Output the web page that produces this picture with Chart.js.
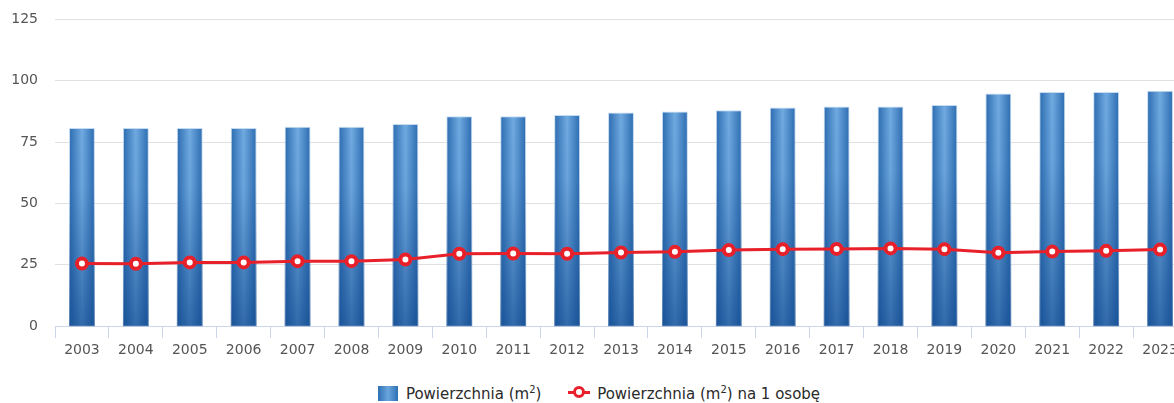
<!DOCTYPE html>
<html>
<head>
<meta charset="utf-8">
<script src="https://cdn.jsdelivr.net/npm/chart.js@4.4.1/dist/chart.umd.min.js"></script>
<style>
    html, body { margin: 0; padding: 0; background: #fff; overflow: hidden; }
    #wrap { position: relative; width: 1196px; height: 403px; }
    #box { position: absolute; left: 0; top: -6px; width: 1196px; height: 369px; }
    #legend {
        position: absolute; left: 0; top: 384px; width: 1198px; text-align: center;
        font-family: "DejaVu Sans", sans-serif; font-size: 15px; color: #2a2a2a; white-space: nowrap;
    }
    .item { display: inline-block; margin: 0 11px; vertical-align: middle; }
    .item sup { font-size: 10px; }
    .sw-bar { display: inline-block; width: 20px; height: 15px; vertical-align: -2px; margin-right: 8px;
        background: linear-gradient(to right, #2f70b4, #6aa5dc, #2f70b4); }
    .sw-line { display: inline-block; width: 22px; height: 14px; vertical-align: -1px; margin-right: 7px; position: relative; }
    .sw-line:before { content: ""; position: absolute; left: 0; right: 0; top: 5px; height: 3px; background: #e8202a; }
    .sw-line:after { content: ""; position: absolute; left: 5px; top: 0px; width: 6px; height: 6px;
        border: 3px solid #e8202a; border-radius: 50%; background: #fff; }
</style>
</head>
<body>
<div id="wrap">
    <div id="box"><canvas id="chart"></canvas></div>
    <div id="legend">
        <span class="item"><span class="sw-bar"></span>Powierzchnia (m<sup>2</sup>)</span>
        <span class="item"><span class="sw-line"></span>Powierzchnia (m<sup>2</sup>) na 1 osobę</span>
    </div>
</div>
<script>
    const years = ["2003", "2004", "2005", "2006", "2007", "2008", "2009", "2010", "2011", "2012", "2013",
        "2014", "2015", "2016", "2017", "2018", "2019", "2020", "2021", "2022", "2023"];
    const area = [80.8, 80.8, 80.8, 80.8, 81.3, 81.3, 82.4, 85.5, 85.5, 86.0, 87.1,
        87.5, 88.0, 89.1, 89.5, 89.5, 90.1, 94.8, 95.4, 95.4, 95.9];
    const areaPerPerson = [25.5, 25.4, 26.0, 26.0, 26.5, 26.5, 27.2, 29.5, 29.6, 29.5, 30.0,
        30.3, 31.0, 31.4, 31.5, 31.7, 31.4, 29.9, 30.4, 30.7, 31.2];
    const yTicks = [0, 25, 50, 75, 100, 125];

    const barShare = 0.48;

    // horizontal gradient for each bar: dark edges, light middle
    function barFill(ctx) {
        const chart = ctx.chart;
        const xs = chart.scales.x;
        if (!chart.chartArea || !xs || ctx.dataIndex === undefined) return "#3a7fc2";
        const x = xs.getPixelForValue(ctx.dataIndex);
        const half = barShare * chart.chartArea.width / years.length / 2;
        const g = chart.ctx.createLinearGradient(x - half, 0, x + half, 0);
        g.addColorStop(0, "#2b6bb0");
        g.addColorStop(0.5, "#70aae0");
        g.addColorStop(1, "#2b6bb0");
        return g;
    }

    // vertical shading on top of the bars, darker toward the base
    const shade = {
        id: "shade",
        afterDatasetDraw(chart, args) {
            if (chart.data.datasets[args.index].type !== "bar") return;
            const c = chart.ctx;
            const bottom = chart.scales.y.getPixelForValue(0);
            args.meta.data.forEach(function (bar) {
                const half = bar.width / 2;
                const g = c.createLinearGradient(0, bar.y, 0, bottom);
                g.addColorStop(0, "rgba(15,70,140,0)");
                g.addColorStop(0.3, "rgba(15,70,140,0.05)");
                g.addColorStop(1, "rgba(10,65,135,0.6)");
                c.save();
                c.fillStyle = g;
                c.fillRect(bar.x - half, bar.y, bar.width, bottom - bar.y);
                c.restore();
            });
        }
    };

    new Chart(document.getElementById("chart"), {
        data: {
            labels: years,
            datasets: [
                {
                    type: "line",
                    label: "Powierzchnia (m²) na 1 osobę",
                    data: areaPerPerson,
                    borderColor: "#e8202a",
                    borderWidth: 3,
                    pointRadius: 5,
                    pointBorderWidth: 4,
                    pointBackgroundColor: "#ffffff",
                    pointBorderColor: "#e8202a",
                    tension: 0,
                    order: 0
                },
                {
                    type: "bar",
                    label: "Powierzchnia (m²)",
                    data: area,
                    backgroundColor: barFill,
                    borderColor: "rgba(190,215,240,0.9)",
                    borderWidth: 1,
                    barPercentage: barShare,
                    categoryPercentage: 1,
                    order: 1
                }
            ]
        },
        options: {
            responsive: true,
            maintainAspectRatio: false,
            animation: false,
            layout: { padding: { top: 0, right: 0, left: 0, bottom: 0 } },
            plugins: {
                legend: { display: false },
                tooltip: { enabled: false }
            },
            scales: {
                x: {
                    offset: true,
                    grid: {
                        offset: true,
                        drawOnChartArea: false,
                        drawTicks: true,
                        tickLength: 12,
                        color: "#ccd6eb"
                    },
                    border: { color: "#ccd6eb", width: 1 },
                    ticks: {
                        color: "#555",
                        font: { family: "DejaVu Sans", size: 14 },
                        padding: 4,
                        maxRotation: 0,
                        autoSkip: false
                    }
                },
                y: {
                    min: 0,
                    max: 125,
                    afterBuildTicks: function (scale) {
                        scale.ticks = yTicks.map(function (v) { return { value: v }; });
                    },
                    afterFit: function (scale) { scale.width = 55; },
                    grid: { color: "#e0e0e0", drawTicks: false },
                    border: { display: false },
                    ticks: {
                        color: "#555",
                        font: { family: "DejaVu Sans", size: 14 },
                        padding: 17
                    }
                }
            }
        },
        plugins: [shade]
    });
</script>
</body>
</html>
